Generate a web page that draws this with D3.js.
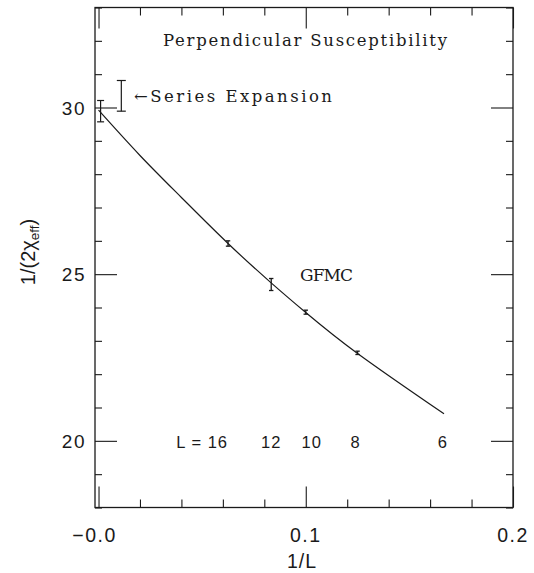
<!DOCTYPE html>
<html><head><meta charset="utf-8">
<script src="https://cdn.jsdelivr.net/npm/d3@7"></script>
<style>body{margin:0;background:#fff}</style>
</head><body>
<svg id="c" width="534" height="573"></svg>
<script>
// ---- data ----
const curveX = [0, 0.02, 0.04, 0.0625, 0.0833, 0.1, 0.125, 0.1667];
const curveY = [29.92, 28.56, 27.30, 25.92, 24.74, 23.85, 22.62, 20.81];
const gfmcL = [16, 12, 10, 8];
const gfmcY = [25.92, 24.69, 23.86, 22.64];
const gfmcErr = [0.08, 0.18, 0.06, 0.05];
const extrapX = [0.001];
const extrapY = [29.89];
const extrapErr = [0.32];
const seriesX = [0.011];
const seriesY = [30.35];
const seriesErr = [0.46];
const sizeL = [16, 12, 10, 8, 6];
const xMajor = [0, 0.1, 0.2];
const xMajorLabels = ["\u22120.0", "0.1", "0.2"];
const xMinor = [0.02, 0.04, 0.06, 0.08, 0.12, 0.14, 0.16, 0.18];
const yMajor = [20, 25, 30];
const yMinor = [18, 19, 21, 22, 23, 24, 26, 27, 28, 29, 31, 32, 33];

const svg = d3.select("#c");
const L = 95, R = 513, T = 7.5, B = 507.5;
const x = d3.scaleLinear().domain([-0.0017, 0.2]).range([L, R]);
const y = d3.scaleLinear().domain([18, 33]).range([B, T]);
const ink = "#1a1a1a";
const numFont = "'Liberation Sans', Arial, sans-serif";
const txtFont = "'DejaVu Serif', 'Liberation Serif', serif";

// ticks via d3 axes (inward)
function ax(gen, vals, size, tr) {
  const g = svg.append("g").attr("transform", tr)
    .call(gen.tickValues(vals).tickSize(-size).tickFormat(""));
  g.select(".domain").remove();
  g.selectAll("line").attr("stroke", ink).attr("stroke-width", 1.1);
}
ax(d3.axisBottom(x), xMinor, 8, `translate(0,${B})`);
ax(d3.axisBottom(x), xMajor, 21, `translate(0,${B})`);
ax(d3.axisTop(x), xMinor, 8, `translate(0,${T})`);
ax(d3.axisTop(x), xMajor, 21, `translate(0,${T})`);
ax(d3.axisLeft(y), yMinor, 7, `translate(${L},0)`);
ax(d3.axisLeft(y), yMajor, 22, `translate(${L},0)`);
ax(d3.axisRight(y), yMinor, 7, `translate(${R},0)`);
ax(d3.axisRight(y), yMajor, 22, `translate(${R},0)`);

// frame
svg.append("rect").attr("x", L).attr("y", T).attr("width", R - L).attr("height", B - T)
  .attr("fill", "none").attr("stroke", ink).attr("stroke-width", 1.3);

// tick labels
svg.selectAll(".xl").data(xMajor).enter().append("text")
  .attr("x", (d, i) => x(d) - (i === 0 ? 4 : 0)).attr("y", 542).attr("text-anchor", "middle")
  .attr("font-family", numFont).attr("font-size", 19.5).attr("letter-spacing", 1.5)
  .attr("fill", ink).text((d, i) => xMajorLabels[i]);
svg.selectAll(".yl").data(yMajor).enter().append("text")
  .attr("x", 86).attr("y", d => y(d) + 7).attr("text-anchor", "end")
  .attr("font-family", numFont).attr("font-size", 19).attr("letter-spacing", 1.5)
  .attr("fill", ink).text(d => d);

// axis titles
svg.append("text").attr("x", 302).attr("y", 568).attr("text-anchor", "middle")
  .attr("font-family", numFont).attr("font-size", 19.5).attr("letter-spacing", 1).attr("fill", ink).text("1/L");
const yt = svg.append("text").attr("transform", "translate(35,252) rotate(-90)")
  .attr("text-anchor", "middle").attr("font-family", numFont).attr("font-size", 20).attr("fill", ink);
yt.append("tspan").text("1/(2\u03c7");
yt.append("tspan").attr("font-size", 13.5).attr("dy", 4).text("eff");
yt.append("tspan").attr("dy", -4).text(")");

// fitted curve
const pts = curveX.map((d, i) => [d, curveY[i]]);
svg.append("path").datum(pts)
  .attr("d", d3.line().x(d => x(d[0])).y(d => y(d[1])).curve(d3.curveNatural))
  .attr("fill", "none").attr("stroke", ink).attr("stroke-width", 1.2);

// error bars
function ebars(xs, ys, es, cap, sw) {
  xs.forEach((xv, i) => {
    const cx = x(xv), y1 = y(ys[i] + es[i]), y2 = y(ys[i] - es[i]);
    const g = svg.append("g").attr("stroke", ink).attr("stroke-width", sw);
    g.append("line").attr("x1", cx).attr("x2", cx).attr("y1", y1).attr("y2", y2);
    g.append("line").attr("x1", cx - cap).attr("x2", cx + cap).attr("y1", y1).attr("y2", y1);
    g.append("line").attr("x1", cx - cap).attr("x2", cx + cap).attr("y1", y2).attr("y2", y2);
  });
}
ebars(gfmcL.map(l => 1 / l), gfmcY, gfmcErr, 2.2, 1.3);
ebars(extrapX, extrapY, extrapErr, 3.5, 1.2);
ebars(seriesX, seriesY, seriesErr, 4.5, 1.2);

// annotations
svg.append("text").attr("x", 163).attr("y", 46).attr("font-family", txtFont)
  .attr("font-size", 16.5).attr("fill", ink).attr("textLength", 284).attr("lengthAdjust", "spacing")
  .text("Perpendicular Susceptibility");
svg.append("text").attr("x", 134).attr("y", 102).attr("font-family", txtFont)
  .attr("font-size", 16.5).attr("fill", ink).attr("textLength", 198).attr("lengthAdjust", "spacing")
  .text("\u2190Series Expansion");
svg.append("text").attr("x", 300).attr("y", 281).attr("font-family", txtFont)
  .attr("font-size", 17).attr("fill", ink).attr("textLength", 53).attr("lengthAdjust", "spacing")
  .text("GFMC");

// system-size labels along y = 20
const dxL = [0, 0, 6, -2, -1];
svg.selectAll(".ll").data(sizeL).enter().append("text")
  .attr("x", (d, i) => x(1 / d) + dxL[i]).attr("y", 448)
  .attr("text-anchor", (d, i) => i === 0 ? "end" : "middle")
  .attr("font-family", numFont).attr("font-size", 16.5).attr("letter-spacing", 1)
  .attr("xml:space", "preserve")
  .attr("fill", ink).text((d, i) => i === 0 ? "L = " + d : d);
svg.selectAll(".ll").data(sizeL.slice(0, 1)).enter();
</script>
</body></html>
